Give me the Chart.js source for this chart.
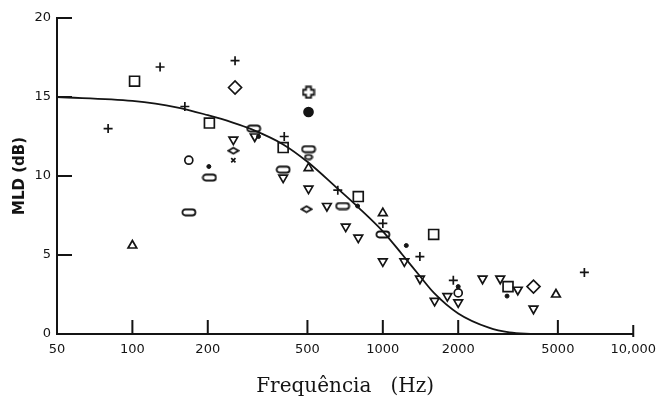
<!DOCTYPE html>
<html>
<head>
<meta charset="utf-8">
<script src="https://cdn.jsdelivr.net/npm/chart.js@4"></script>
<style>
  html, body { margin: 0; padding: 0; background: #fff; }
  #wrap { width: 664px; height: 401px; }
</style>
</head>
<body>
<div id="wrap"><canvas id="mldChart" width="664" height="401"></canvas></div>
<script>
// tick labels
const xTickValues = [50, 100, 200, 500, 1000, 2000, 5000, 10000];
const xTickLabels = ['50', '100', '200', '500', '1000', '2000', '5000', '10,000'];
const yTickValues = [0, 5, 10, 15, 20];

// fitted curve
const curveFreq = [50, 100, 150, 200, 250, 300, 400, 500, 660, 800, 1000, 1200, 1400, 1600, 2000, 2650, 3200, 4000];
const curveMLD  = [15.0, 14.75, 14.35, 13.85, 13.4, 12.95, 12.0, 10.9, 9.2, 8.0, 6.5, 5.0, 3.7, 2.6, 1.3, 0.4, 0.1, 0];

// measured points, one pair of arrays per marker
const plusFreq = [80, 129, 162, 257, 404, 661, 1000, 1406, 1912, 6380];
const plusMLD  = [13.0, 16.9, 14.4, 17.3, 12.5, 9.1, 7.0, 4.9, 3.4, 3.9];

const squareFreq = [102, 203, 400, 798, 1596, 3162];
const squareMLD  = [16.0, 13.35, 11.8, 8.7, 6.3, 3.0];

const circleFreq = [168, 2000];
const circleMLD  = [11.0, 2.6];

const dotFreq = [202, 319, 793, 1241, 2000, 3134];
const dotMLD  = [10.6, 12.5, 8.1, 5.6, 3.0, 2.4];

const bigDotFreq = [505];
const bigDotMLD  = [14.05];

const openCrossFreq = [505];
const openCrossMLD  = [15.3];

const xMarkFreq = [253];
const xMarkMLD  = [11.0];

const diamondFreq = [257, 3996];
const diamondMLD  = [15.6, 3.0];

const flatDiamondFreq = [253, 496];
const flatDiamondMLD  = [11.6, 7.9];

const triUpFreq = [100, 505, 1000, 4913];
const triUpMLD  = [5.6, 10.5, 7.65, 2.5];

const triDownFreq = [253, 308, 400, 505, 598, 711, 798, 1000, 1219, 1407, 1610, 1810, 2000, 2502, 2943, 3459, 3996];
const triDownMLD  = [12.3, 12.5, 9.9, 9.2, 8.1, 6.8, 6.1, 4.6, 4.6, 3.5, 2.1, 2.4, 2.0, 3.5, 3.5, 2.8, 1.6];

const oblongFreq = [168, 203, 305, 400, 505, 691, 1000];
const oblongMLD  = [7.7, 9.9, 13.0, 10.4, 11.7, 8.1, 6.3];

const ovalFreq = [505];
const ovalMLD  = [11.2];

const INK = '#141414';

function pairs(xs, ys) {
    return xs.map((x, i) => ({ x: x, y: ys[i] }));
}

// small canvases for marker shapes Chart.js does not have
function makeMarker(w, h, draw) {
    const c = document.createElement('canvas');
    c.width = w; c.height = h;
    const g = c.getContext('2d');
    g.strokeStyle = INK;
    g.lineWidth = 1.8;
    draw(g);
    return c;
}

const oblongImg = makeMarker(16, 9, g => {
    g.beginPath();
    g.roundRect(1.5, 1.5, 13, 6, 3);
    g.stroke();
});
const ovalImg = makeMarker(10, 7, g => {
    g.beginPath();
    g.ellipse(5, 3.5, 3.6, 2.2, 0, 0, Math.PI * 2);
    g.stroke();
});
const flatDiamondImg = makeMarker(13, 9, g => {
    g.beginPath();
    g.moveTo(1.5, 4.5); g.lineTo(6.5, 1.5); g.lineTo(11.5, 4.5); g.lineTo(6.5, 7.5);
    g.closePath();
    g.stroke();
});
const openCrossImg = makeMarker(14, 14, g => {
    const a = 4.5, b = 9.5, e = 1.5, f = 12.5;
    g.beginPath();
    g.moveTo(a, e); g.lineTo(b, e); g.lineTo(b, a); g.lineTo(f, a); g.lineTo(f, b);
    g.lineTo(b, b); g.lineTo(b, f); g.lineTo(a, f); g.lineTo(a, b); g.lineTo(e, b);
    g.lineTo(e, a); g.lineTo(a, a);
    g.closePath();
    g.stroke();
});

function markerSet(freq, mld, style, radius, opts) {
    return Object.assign({
        type: 'scatter',
        data: pairs(freq, mld),
        showLine: false,
        pointStyle: style,
        pointRadius: radius,
        pointHoverRadius: radius,
        pointBorderColor: INK,
        pointBackgroundColor: 'rgba(0,0,0,0)',
        pointBorderWidth: 1.7
    }, opts || {});
}

// inward tick marks, like the original plot
const inwardTicks = {
    id: 'inwardTicks',
    afterDatasetsDraw(chart) {
        const { ctx, chartArea, scales } = chart;
        ctx.save();
        ctx.strokeStyle = INK;
        ctx.lineWidth = 2;
        ctx.beginPath();
        xTickValues.forEach(v => {
            if (v === 50) return;
            const px = scales.x.getPixelForValue(v);
            const len = v === 10000 ? 9 : 14;
            ctx.moveTo(px, chartArea.bottom + (v === 10000 ? 3 : 0));
            ctx.lineTo(px, chartArea.bottom - len);
        });
        yTickValues.forEach(v => {
            if (v === 0) return;
            const py = scales.y.getPixelForValue(v);
            ctx.moveTo(chartArea.left, py);
            ctx.lineTo(chartArea.left + 15, py);
        });
        ctx.stroke();
        ctx.restore();
    }
};

new Chart(document.getElementById('mldChart'), {
    data: {
        datasets: [
            {
                type: 'line',
                data: pairs(curveFreq, curveMLD),
                borderColor: INK,
                borderWidth: 1.8,
                pointRadius: 0,
                fill: false,
                cubicInterpolationMode: 'monotone'
            },
            markerSet(plusFreq, plusMLD, 'cross', 4.5),
            markerSet(squareFreq, squareMLD, 'rect', 7),
            markerSet(circleFreq, circleMLD, 'circle', 4),
            markerSet(dotFreq, dotMLD, 'circle', 2, { pointBackgroundColor: INK, pointBorderWidth: 1 }),
            markerSet(bigDotFreq, bigDotMLD, 'circle', 4.5, { pointBackgroundColor: INK }),
            markerSet(openCrossFreq, openCrossMLD, openCrossImg, 7),
            markerSet(xMarkFreq, xMarkMLD, 'crossRot', 3),
            markerSet(diamondFreq, diamondMLD, 'rectRot', 6.5),
            markerSet(flatDiamondFreq, flatDiamondMLD, flatDiamondImg, 6),
            markerSet(triUpFreq, triUpMLD, 'triangle', 5),
            markerSet(triDownFreq, triDownMLD, 'triangle', 5, { rotation: 180 }),
            markerSet(oblongFreq, oblongMLD, oblongImg, 7),
            markerSet(ovalFreq, ovalMLD, ovalImg, 5)
        ]
    },
    options: {
        responsive: false,
        animation: false,
        events: [],
        layout: { padding: { top: 18, right: 23, left: 0, bottom: 0 } },
        plugins: {
            legend: { display: false },
            tooltip: { enabled: false }
        },
        scales: {
            x: {
                type: 'logarithmic',
                min: 50,
                max: 10000,
                afterBuildTicks: s => { s.ticks = xTickValues.map(v => ({ value: v })); },
                afterFit: s => { s.height = 67; },
                grid: { display: false, drawTicks: false },
                border: { display: true, color: INK, width: 2 },
                ticks: {
                    autoSkip: false,
                    maxRotation: 0,
                    padding: 8,
                    color: INK,
                    font: { family: 'DejaVu Sans', size: 13 },
                    callback: v => xTickLabels[xTickValues.indexOf(v)]
                },
                title: {
                    display: true,
                    text: 'Frequência   (Hz)',
                    color: INK,
                    font: { family: 'DejaVu Serif', size: 20 },
                    padding: { top: 8, bottom: 2 }
                }
            },
            y: {
                type: 'linear',
                min: 0,
                max: 20,
                afterBuildTicks: s => { s.ticks = yTickValues.map(v => ({ value: v })); },
                afterFit: s => { s.width = 57; },
                grid: { display: false, drawTicks: false },
                border: { display: true, color: INK, width: 2 },
                ticks: {
                    padding: 6,
                    color: INK,
                    font: { family: 'DejaVu Sans', size: 13 }
                },
                title: {
                    display: true,
                    text: 'MLD (dB)',
                    color: INK,
                    font: { family: 'DejaVu Sans', size: 15, weight: 'bold' },
                    padding: { top: 11, bottom: 6 }
                }
            }
        }
    },
    plugins: [inwardTicks]
});
</script>
</body>
</html>
